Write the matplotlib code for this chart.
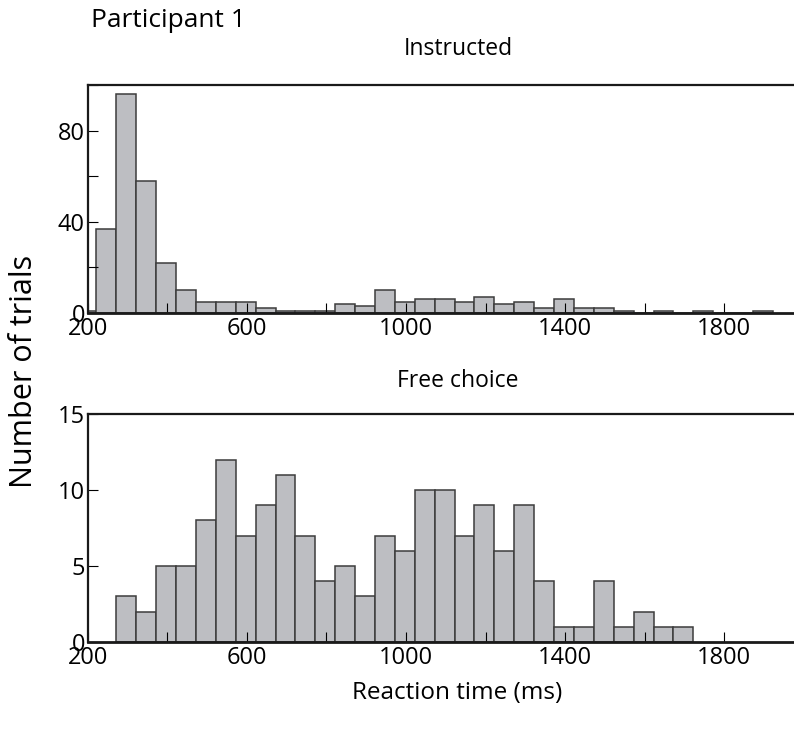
import numpy as np
import matplotlib
matplotlib.use("Agg")
import matplotlib.pyplot as plt
from matplotlib.ticker import MultipleLocator

plt.rcParams['font.family'] = ['Open Sans', 'DejaVu Sans']

# histogram counts, 50 ms bins
bin_width = 50
instructed_start = 172
instructed_counts = [1, 37, 96, 58, 22, 10, 5, 5, 5, 2, 1, 1, 1, 4, 3, 10, 5, 6, 6,
                     5, 7, 4, 5, 2, 6, 2, 2, 1, 0, 1, 0, 1, 0, 0, 1]
free_start = 272
free_counts = [3, 2, 5, 5, 8, 12, 7, 9, 11, 7, 4, 5, 3, 7, 6, 10, 10, 7, 9, 6,
               9, 4, 1, 1, 4, 1, 2, 1, 1]

x_ticks = [200, 600, 1000, 1400, 1800]
instructed_yticks = [0, 40, 80]
free_yticks = [0, 5, 10, 15]

bar_face = '#bdbec2'
bar_edge = '#3c3c3c'

fig = plt.figure(figsize=(7.94, 7.35), dpi=100)
ax1 = fig.add_axes([0.1105, 0.5741, 0.8895, 0.3102])
ax2 = fig.add_axes([0.1105, 0.1265, 0.8895, 0.3102])


def draw_hist(ax, start, counts, ylim, ymajor, yminor):
    counts = np.asarray(counts)
    left = start + bin_width * np.arange(len(counts))
    ax.bar(left, counts, width=bin_width, align='edge', color=bar_face,
           edgecolor=bar_edge, linewidth=1.1)
    ax.set_xlim(200, 1975)
    ax.set_ylim(*ylim)
    ax.spines['right'].set_visible(False)
    for s in ['left', 'top', 'bottom']:
        ax.spines[s].set_linewidth(1.6)
        ax.spines[s].set_color('#1a1a1a')
    ax.spines['bottom'].set_linewidth(2.0)
    ax.set_xticks(x_ticks)
    ax.xaxis.set_minor_locator(MultipleLocator(200))
    ax.set_yticks(ymajor)
    ax.yaxis.set_minor_locator(MultipleLocator(yminor))
    ax.tick_params(which='both', direction='in', length=7, width=0.8,
                   labelsize=17, top=False, right=False)
    ax.tick_params(axis='x', pad=3)
    ax.tick_params(axis='y', pad=2)


draw_hist(ax1, instructed_start, instructed_counts, (0, 100), instructed_yticks, 20)
draw_hist(ax2, free_start, free_counts, (0, 15), free_yticks, 5)

fig.text(0.114, 0.972, 'Participant 1', fontsize=19, ha='left', va='center')
fig.text(0.577, 0.933, 'Instructed', fontsize=16.5, ha='center', va='center')
fig.text(0.577, 0.481, 'Free choice', fontsize=16.5, ha='center', va='center')
fig.text(0.030, 0.495, 'Number of trials', fontsize=22, rotation=90,
         ha='center', va='center')
fig.text(0.576, 0.057, 'Reaction time (ms)', fontsize=17.5, ha='center', va='center')

fig.savefig('out.png', dpi=100)
